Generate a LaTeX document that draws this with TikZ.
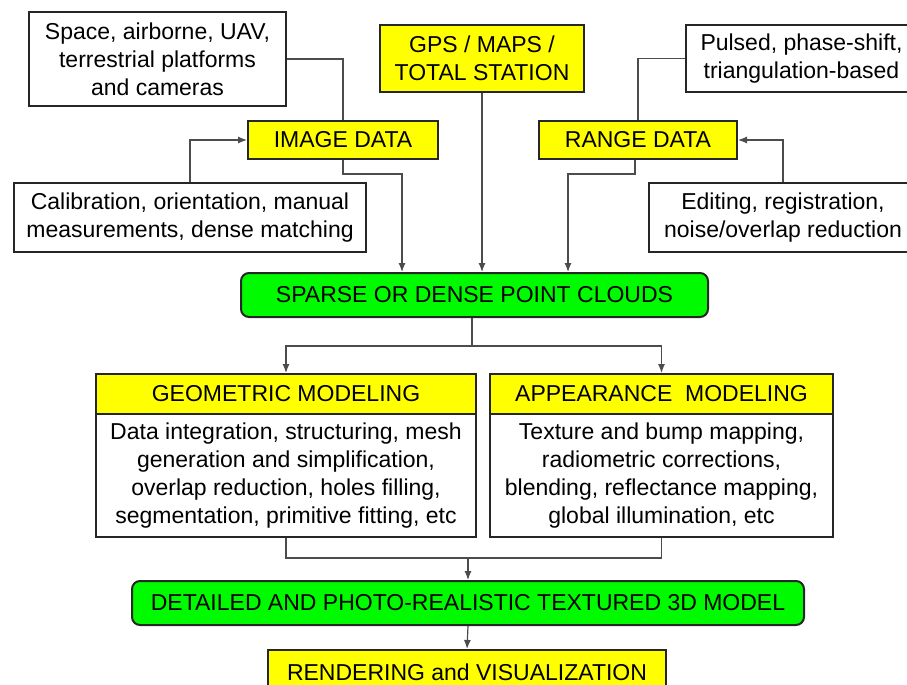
\documentclass[tikz,border=0pt]{standalone}
\usepackage{fontspec}
\setmainfont{Liberation Sans}
\usetikzlibrary{arrows.meta}
\definecolor{boxyellow}{RGB}{255,255,0}
\definecolor{boxgreen}{RGB}{0,250,0}
\begin{document}
\begin{tikzpicture}[x=0.5pt,y=-0.5pt,
		font=\fontsize{11.5}{14}\selectfont,
		plain/.style={draw=black!85,line width=1pt,fill=white,align=center,inner sep=0pt},
		hdr/.style={plain,fill=boxyellow},
		cloud/.style={plain,fill=boxgreen,rounded corners=4pt},
		link/.style={draw=black!70,line width=0.6pt},
		arr/.style={link,-{Latex[length=4.5pt,width=3.5pt]}}]
		\useasboundingbox (0,0) rectangle (907,685);
		% input sources
		\node[plain,minimum width=128.5pt,minimum height=47pt] (platf) at (157.5,59) {Space, airborne, UAV,\\terrestrial platforms\\and cameras};
		\node[hdr,minimum width=102pt,minimum height=33.5pt] (gps) at (482,58.5) {GPS / MAPS /\\TOTAL STATION};
		\node[plain,minimum width=115.5pt,minimum height=33.5pt] (pulsed) at (801.5,58.5) {Pulsed, phase-shift,\\triangulation-based};
		\node[hdr,minimum width=95pt,minimum height=19pt] (imgdata) at (343,140) {IMAGE DATA};
		\node[hdr,minimum width=99pt,minimum height=19pt] (rngdata) at (638,140) {RANGE DATA};
		\node[plain,minimum width=176pt,minimum height=34.5pt] (calib) at (190,217.5) {Calibration, orientation, manual\\measurements, dense matching};
		\node[plain,minimum width=134pt,minimum height=34.5pt] (edit) at (783,217.5) {Editing, registration,\\noise/overlap reduction};
		% point clouds
		\node[cloud,minimum width=233.5pt,minimum height=22pt] (sparse) at (474.5,295) {SPARSE OR DENSE POINT CLOUDS};
		% modeling
		\node[hdr,minimum width=190pt,minimum height=20pt] (geomhead) at (286,394) {GEOMETRIC MODELING};
		\node[plain,minimum width=190pt,minimum height=61.5pt] (geombody) at (286,475.5) {Data integration, structuring, mesh\\generation and simplification,\\overlap reduction, holes filling,\\segmentation, primitive fitting, etc};
		\node[hdr,minimum width=171.5pt,minimum height=20pt] (apphead) at (661.5,394) {APPEARANCE~ MODELING};
		\node[plain,minimum width=171.5pt,minimum height=61.5pt] (appbody) at (661.5,475.5) {Texture and bump mapping,\\radiometric corrections,\\blending, reflectance mapping,\\global illumination, etc};
		% results
		\node[cloud,minimum width=336pt,minimum height=22pt] (detail) at (468,603) {DETAILED AND PHOTO-REALISTIC TEXTURED 3D MODEL};
		\node[hdr,minimum width=199pt,minimum height=22.5pt] (render) at (467,672.5) {RENDERING and VISUALIZATION};
		\coordinate (merge) at (468,558);
		\coordinate (split) at (472,346);
		% connectors
		\draw[link] (platf.east) -| (imgdata.north);
		\draw[arr] (calib.north) |- (imgdata.west);
		\draw[arr] (imgdata.south) -- ++(0,14) -| ([xshift=-36.25pt]sparse.north);
		\draw[arr] (gps.south) -- (gps.south |- sparse.north);
		\draw[link] (rngdata.north) |- (pulsed.west);
		\draw[arr] (edit.north) |- (rngdata.east);
		\draw[arr] ([xshift=-1.5pt]rngdata.south) -- ++(0,14) -| ([xshift=46.75pt]sparse.north);
		\draw[link] (split |- sparse.south) -- (split);
		\draw[arr] (split) -| (geomhead.north);
		\draw[arr] (split) -| (apphead.north);
		\draw[link] (geombody.south) |- (merge) -| (appbody.south);
		\draw[arr] (merge) -- (detail.north);
		\draw[arr] (detail.south) -- (render.north);
\end{tikzpicture}
\end{document}
